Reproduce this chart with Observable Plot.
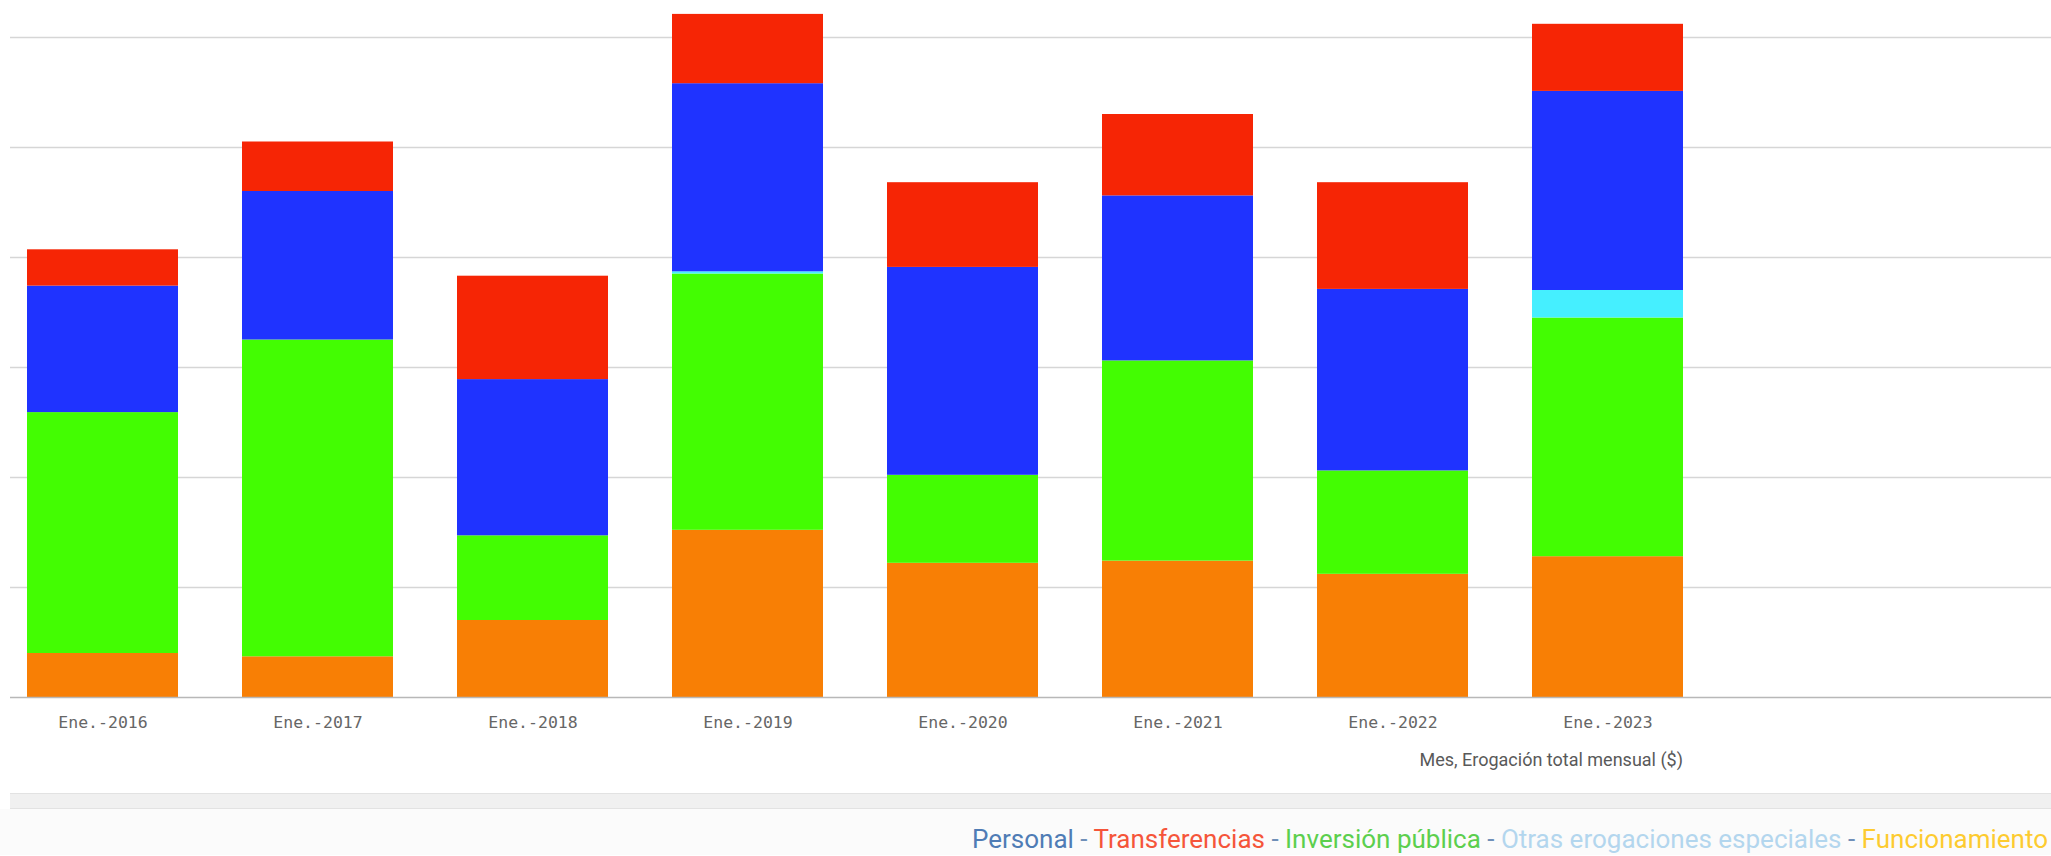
<!DOCTYPE html>
<html>
<head>
<meta charset="utf-8">
<script src="https://cdn.jsdelivr.net/npm/d3@7"></script>
<script src="https://cdn.jsdelivr.net/npm/@observablehq/plot@0.6"></script>
<style>
  html, body { margin: 0; padding: 0; background: #ffffff; overflow: hidden; }
  #chart svg { display: block; }
  #axis-title {
    width: 1683px; height: 30px; line-height: 30px; text-align: right;
    font-family: Roboto, sans-serif; font-size: 18px; color: #595959;
  }
  #scroll {
    margin-top: 18px; margin-left: 10px; height: 14px;
    background: #f0f0f0; border-top: 1px solid #e2e2e2; border-bottom: 1px solid #e2e2e2;
  }
  #legend {
    height: 46px; line-height: 60px; background: #fbfbfb; text-align: right;
    padding-right: 3px; font-family: Roboto, sans-serif; font-size: 26px; white-space: nowrap;
  }
</style>
</head>
<body>
<div id="chart"></div>
<div id="axis-title"></div>
<div id="scroll"></div>
<div id="legend"></div>
<script>
// Categories (x axis tick labels)
const months = ["Ene.-2016", "Ene.-2017", "Ene.-2018", "Ene.-2019", "Ene.-2020", "Ene.-2021", "Ene.-2022", "Ene.-2023"];
// Series values (units: one gridline step), stacked bottom to top
const funcionamiento   = [0.40, 0.37, 0.70, 1.52, 1.22, 1.24, 1.12, 1.28];
const inversionPublica = [2.19, 2.88, 0.77, 2.33, 0.80, 1.82, 0.94, 2.17];
const otrasErogaciones = [0.00, 0.00, 0.00, 0.02, 0.00, 0.00, 0.00, 0.25];
const personal         = [1.15, 1.35, 1.42, 1.71, 1.89, 1.50, 1.65, 1.81];
const transferencias   = [0.33, 0.45, 0.94, 0.63, 0.77, 0.74, 0.97, 0.61];
const gridTicks = [1, 2, 3, 4, 5, 6];

const seriesNames = ["Funcionamiento", "Inversión pública", "Otras erogaciones especiales", "Personal", "Transferencias"];
const seriesValues = [funcionamiento, inversionPublica, otrasErogaciones, personal, transferencias];
const barColors = ["#f87f05", "#43fd02", "#45efff", "#1f33ff", "#f62505"];

const legendOrder = ["Personal", "Transferencias", "Inversión pública", "Otras erogaciones especiales", "Funcionamiento"];
const legendColors = ["#4f7cb5", "#f5553a", "#5ccf4e", "#b3d6ee", "#fdcb30"];
const legendSeparatorColor = "#6f8fb8";
const axisTitle = "Mes, Erogación total mensual ($)";

const data = months.flatMap((m, i) =>
  seriesNames.map((s, j) => ({mes: m, serie: s, valor: seriesValues[j][i]}))
);

const chart = Plot.plot({
  width: 2051,
  height: 745,
  marginLeft: 10,
  marginRight: 0,
  marginTop: 4,
  marginBottom: 48,
  style: {background: "#ffffff", color: "#666666", fontFamily: "'DejaVu Sans Mono', monospace", fontSize: "16.5px"},
  x: {domain: months, range: [-5.25, 1714.75], paddingInner: 0.3, paddingOuter: 0.15, axis: null},
  y: {domain: [0, 6.3], axis: null},
  color: {domain: seriesNames, range: barColors},
  marks: [
    Plot.ruleY(gridTicks, {stroke: "#d6d6d6", strokeWidth: 1.5}),
    Plot.barY(data, {x: "mes", y: "valor", fill: "serie", order: seriesNames}),
    Plot.ruleY([0], {stroke: "#b8b8b8", strokeWidth: 1.5}),
    Plot.axisX({tickSize: 0, tickPadding: 19, label: null, fill: "#666666"})
  ]
});
document.getElementById("chart").appendChild(chart);

document.getElementById("axis-title").textContent = axisTitle;

const legend = document.getElementById("legend");
legendOrder.forEach((name, i) => {
  if (i > 0) {
    const sep = document.createElement("span");
    sep.textContent = " - ";
    sep.style.color = legendSeparatorColor;
    legend.appendChild(sep);
  }
  const span = document.createElement("span");
  span.textContent = name;
  span.style.color = legendColors[i];
  legend.appendChild(span);
});
</script>
</body>
</html>
